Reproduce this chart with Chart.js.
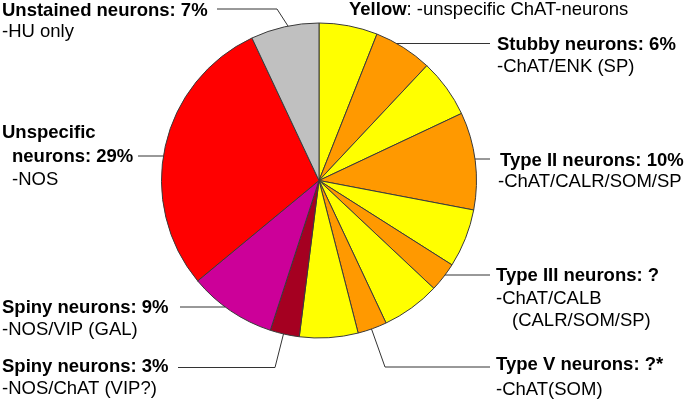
<!DOCTYPE html>
<html>
<head>
<meta charset="utf-8">
<script src="https://cdn.jsdelivr.net/npm/chart.js@4"></script>
<style>
  body { margin: 0; background: #fff; }
  #wrap { width: 685px; height: 401px; }
</style>
</head>
<body>
<div id="wrap"><canvas id="pieChart" width="685" height="401"></canvas></div>
<script>
// Slices clockwise from 12 o'clock
const sliceLabels = ['ChAT (yellow)', 'Stubby neurons', 'ChAT (yellow)', 'Type II neurons', 'ChAT (yellow)',
    'Type III neurons', 'ChAT (yellow)', 'Type V neurons', 'ChAT (yellow)', 'Spiny neurons (NOS/ChAT)',
    'Spiny neurons (NOS/VIP)', 'Unspecific neurons', 'Unstained neurons'];
const sliceValues = [6, 6, 6, 10, 6, 3, 6, 3, 6, 3, 9, 29, 7];
const sliceColors = ['#ffff00', '#ff9900', '#ffff00', '#ff9900', '#ffff00', '#ff9900', '#ffff00', '#ff9900',
    '#ffff00', '#a50021', '#cc0099', '#ff0000', '#c0c0c0'];

// Callout texts: each line is [indent, [[text, bold], ...]]
const callouts = [
    { x: 2, y: 16, gap: 21, lines: [[0, [['Unstained neurons: 7%', true]]], [0, [['-HU only', false]]]] },
    { x: 349, y: 15, gap: 21, lines: [[0, [['Yellow', true], [': -unspecific ChAT-neurons', false]]]] },
    { x: 497, y: 50, gap: 22, lines: [[0, [['Stubby neurons: 6%', true]]], [0, [['-ChAT/ENK (SP)', false]]]] },
    { x: 2, y: 138, gap: 23.5, lines: [[0, [['Unspecific', true]]], [10, [['neurons: 29%', true]]], [10, [['-NOS', false]]]] },
    { x: 500, y: 166, gap: 21, lines: [[0, [['Type II neurons: 10%', true]]], [-2, [['-ChAT/CALR/SOM/SP', false]]]] },
    { x: 496, y: 281, gap: 22.5, lines: [[0, [['Type III neurons: ?', true]]], [0, [['-ChAT/CALB', false]]], [16, [['(CALR/SOM/SP)', false]]]] },
    { x: 496, y: 370, gap: 25, lines: [[0, [['Type V neurons: ?*', true]]], [0, [['-ChAT(SOM)', false]]]] },
    { x: 2, y: 313, gap: 22, lines: [[0, [['Spiny neurons: 9%', true]]], [0, [['-NOS/VIP (GAL)', false]]]] },
    { x: 2, y: 372, gap: 22, lines: [[0, [['Spiny neurons: 3%', true]]], [0, [['-NOS/ChAT (VIP?)', false]]]] }
];

// Leader lines: either horizontal at y from the circle edge, or from a point on a slice arc
const leaders = [
    { slice: 12, frac: 0.55, path: [[277, 9], [217, 9]] },
    { y: 43.5, side: 1, toX: 490 },
    { y: 156, side: -1, toX: 138 },
    { y: 159, side: 1, toX: 490 },
    { y: 275, side: 1, toX: 490 },
    { slice: 7, frac: 0.53, path: [[385, 367], [490, 367]] },
    { y: 307, side: -1, toX: 180 },
    { slice: 9, frac: 0.54, path: [[275, 367.5], [178, 367.5]] }
];

const FONT = "18.5px 'Liberation Sans', Arial, sans-serif";

const calloutPlugin = {
    id: 'callouts',
    afterDraw(chart) {
        const ctx = chart.ctx;
        const arcs = chart.getDatasetMeta(0).data;
        const cx = arcs[0].x, cy = arcs[0].y, r = arcs[0].outerRadius;
        ctx.save();
        ctx.strokeStyle = '#333';
        ctx.lineWidth = 1;
        leaders.forEach(l => {
            ctx.beginPath();
            if (l.slice !== undefined) {
                const a = arcs[l.slice];
                const ang = a.startAngle + (a.endAngle - a.startAngle) * l.frac;
                ctx.moveTo(cx + Math.cos(ang) * r, cy + Math.sin(ang) * r);
                l.path.forEach(p => ctx.lineTo(p[0], p[1]));
            } else {
                const dx = Math.sqrt(Math.max(r * r - (l.y - cy) * (l.y - cy), 0));
                ctx.moveTo(cx + l.side * dx, l.y);
                ctx.lineTo(l.toX, l.y);
            }
            ctx.stroke();
        });
        ctx.fillStyle = '#000';
        ctx.textBaseline = 'alphabetic';
        callouts.forEach(c => {
            c.lines.forEach((line, i) => {
                let x = c.x + line[0];
                const y = c.y + i * c.gap;
                line[1].forEach(seg => {
                    ctx.font = (seg[1] ? 'bold ' : '') + FONT;
                    ctx.fillText(seg[0], x, y);
                    x += ctx.measureText(seg[0]).width;
                });
            });
        });
        ctx.restore();
    }
};

const pieCtx = document.getElementById('pieChart').getContext('2d');
const pieChart = new Chart(pieCtx, {
    type: 'pie',
    data: {
        labels: sliceLabels,
        datasets: [{
            data: sliceValues,
            backgroundColor: sliceColors,
            borderColor: '#3a3a3a',
            borderWidth: 1
        }]
    },
    options: {
        responsive: false,
        animation: false,
        layout: { padding: { left: 161, right: 208, top: 22, bottom: 62 } },
        plugins: {
            legend: { display: false },
            tooltip: { enabled: false }
        }
    },
    plugins: [calloutPlugin]
});
</script>
</body>
</html>
